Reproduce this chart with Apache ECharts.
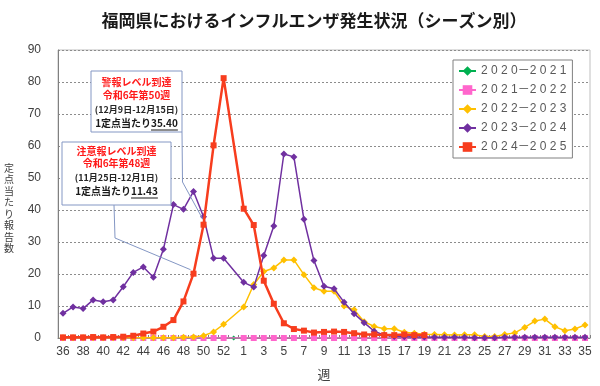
<!DOCTYPE html>
<html><head><meta charset="utf-8">
<script src="https://cdn.jsdelivr.net/npm/echarts@6/dist/echarts.min.js"></script>
<style>html,body{margin:0;padding:0;background:#fff}#c{width:600px;height:386px}</style>
</head><body><div id="c"></div>
<script>
const weekLabels = ['36','37','38','39','40','41','42','43','44','45','46','47','48','49','50','51','52','53',
  '1','2','3','4','5','6','7','8','9','10','11','12','13','14','15','16','17','18','19','20',
  '21','22','23','24','25','26','27','28','29','30','31','32','33','34','35'];
const seasonNames = ['2020－2021','2021－2022','2022－2023','2023－2024','2024－2025'];
const s2020 = [0,0,0,0,0,0,0,0,0,0,0,0,0,0,0,0,0,0,
  0,0,0,0,0,0,0,0,0,0,0,0,0,0,0,0,0,0,0,0,0,0,0,0,0,0,0,0,0,0,0,0,0,0,0];
const s2021 = [0,0,0,0,0,0,0,0,0,0,0,0,0,0,0,0,0,null,
  0,0,0,0,0,0,0,0,0,0,0,0,0,0,0,0,0,0,0,0,0,0,0,0,0,0,0,0,0,0,0,0,0,0,0];
const s2022 = [0.1,0.1,0.1,0.1,0.1,0.1,0.1,0.1,0.1,0.1,0.1,0.1,0.2,0.3,0.7,1.9,4.3,null,
  9.7,16.7,20.8,21.9,24.4,24.4,19.8,15.7,14.6,14.6,10.0,8.8,5.1,3.6,2.9,2.9,1.8,1.5,1.2,1.1,
  1.0,0.9,1.0,1.0,0.5,0.5,1.1,1.6,3.3,5.3,5.9,3.5,2.3,2.8,4.1];
const s2023 = [7.7,9.7,9.2,11.9,11.3,11.9,16.0,20.5,22.2,19.0,27.7,41.7,40.2,45.8,37.9,24.9,24.9,null,
  17.4,15.9,25.8,35.0,57.5,56.6,37.1,24.2,16.2,15.4,11.2,7.6,4.8,2.1,0.9,0.5,0.4,0.3,0.3,0.2,
  0.2,0.2,0.2,0.1,0.1,0.1,0.2,0.2,0.2,0.2,0.2,0.2,0.2,0.2,0.2];
const s2024 = [0.2,0.2,0.2,0.3,0.2,0.3,0.4,0.7,1.4,2.0,3.5,5.6,11.43,20.1,35.40,60.2,81.2,null,
  40.4,35.3,17.9,10.7,4.6,2.8,2.3,1.7,1.9,2.0,1.9,1.5,1.1,1.1,0.9,0.9,1.1,0.9,0.9,null,
  null,null,null,null,null,null,null,null,null,null,null,null,null,null,null];
const yTicks = [0,10,20,30,40,50,60,70,80,90];

const seriesData = [s2020, s2021, s2022, s2023, s2024];
const colors = ['#00b050','#ff66cc','#ffc000','#7030a0','#f73d1e'];
const symbols = ['diamond','rect','diamond','diamond','rect'];
const symSizes = [5,6,7,7,6];
const lineWidths = [1.5,1.5,1.5,1.5,2.5];

const CJK = "'Noto Sans CJK JP', sans-serif";
const NUM = "'Liberation Sans', Arial, 'Noto Sans CJK JP', sans-serif";

const chart = echarts.init(document.getElementById('c'), null, {renderer:'canvas'});

const option = {
  animation: false,
  backgroundColor: '#fff',
  grid: {left: 58, right: 10, top: 50, bottom: 45, show: true, borderColor: '#bfbfbf', borderWidth: 1, backgroundColor: 'transparent'},
  legend: {
    orient: 'vertical', left: 453, top: 60, padding: [5, 6, 5, 5], itemGap: 7,
    itemWidth: 17, itemHeight: 12,
    borderColor: '#808080', borderWidth: 1, backgroundColor: '#fff',
    data: seasonNames,
    formatter: n => { const p = n.split('－'); return p[0].split('').join(' ') + '－' + p[1].split('').join(' '); },
    textStyle: {fontSize: 12, color: '#595959', fontFamily: NUM}
  },
  xAxis: {
    type: 'category', data: weekLabels, boundaryGap: true,
    name: '週', nameLocation: 'middle', nameGap: 30,
    nameTextStyle: {fontSize: 13, color: '#404040', fontFamily: CJK},
    axisLine: {lineStyle: {color: '#808080', width: 1}},
    axisTick: {show: true, inside: true, length: 3, interval: 0, lineStyle: {color: '#808080'}},
    axisLabel: {interval: 1, fontSize: 12, color: '#404040', margin: 8, fontFamily: NUM}
  },
  yAxis: {
    type: 'value', min: yTicks[0], max: yTicks[yTicks.length-1], interval: yTicks[1]-yTicks[0],
    axisLine: {show: true, lineStyle: {color: '#808080', width: 1}},
    axisTick: {show: false},
    axisLabel: {fontSize: 12, color: '#404040', margin: 17, fontFamily: NUM},
    splitLine: {show: true, lineStyle: {color: '#8c8c8c', type: [2, 2], width: 1}}
  },
  series: seasonNames.map((n, i) => ({
    name: n, type: 'line', data: seriesData[i], connectNulls: true,
    symbol: symbols[i], symbolSize: symSizes[i], showAllSymbol: true,
    itemStyle: {color: colors[i], borderWidth: 0},
    lineStyle: {color: colors[i], width: lineWidths[i]},
    z: 2 + i
  }))
};
chart.setOption(option);

// annotations
const ctx = document.createElement('canvas').getContext('2d');
function tw(text, font) { ctx.font = font; return ctx.measureText(text).width; }

const boxColor = '#8497c4';
function boxGroup(x, y, w, h, lines, numText, numLineY) {
  const cx = x + w / 2;
  const els = [{type: 'rect', shape: {x, y, width: w, height: h}, style: {fill: '#fff', stroke: boxColor, lineWidth: 1}, z: 50}];
  lines.forEach(l => {
    els.push({type: 'text', x: cx, y: l.y, z: 51, style: {text: l.t, fill: l.c, font: l.f, textAlign: 'center', textVerticalAlign: 'middle'}});
  });
  const f = "bold 10px 'Noto Sans CJK JP', sans-serif";
  const pre = '1定点当たり';
  const w1 = tw(pre, f), w2 = tw(numText, f);
  const sx = cx - (w1 + w2) / 2;
  els.push({type: 'text', x: sx, y: numLineY, z: 51, style: {text: pre, fill: '#1a1a1a', font: f, textAlign: 'left', textVerticalAlign: 'middle'}});
  els.push({type: 'text', x: sx + w1, y: numLineY, z: 51, style: {text: numText, fill: '#1a1a1a', font: f, textAlign: 'left', textVerticalAlign: 'middle'}});
  els.push({type: 'line', z: 51, shape: {x1: sx + w1, y1: numLineY + 7, x2: sx + w1 + w2, y2: numLineY + 7}, style: {stroke: '#1a1a1a', lineWidth: 1}});
  return els;
}
const redF = "bold 10px 'Noto Sans CJK JP', sans-serif";
const datF = "bold 9px 'Noto Sans CJK JP', sans-serif";

const p50 = chart.convertToPixel({seriesIndex: 4}, [14, s2024[14]]);
const p49 = chart.convertToPixel({seriesIndex: 4}, [13, s2024[13]]);

const elements = [];
elements.push({type: 'polyline', z: 40, shape: {points: [[182, 132], [182.5, 182], [p50[0] - 1, p50[1] - 6]]}, style: {stroke: boxColor, lineWidth: 1, fill: null}});
elements.push({type: 'polyline', z: 40, shape: {points: [[114, 205], [115, 238], [p49[0] - 3, p49[1] - 4]]}, style: {stroke: boxColor, lineWidth: 1, fill: null}});
elements.push(...boxGroup(91, 71, 91, 61, [
  {t: '警報レベル到達', c: '#ff1a1a', f: redF, y: 82},
  {t: '令和6年第50週', c: '#ff1a1a', f: redF, y: 95},
  {t: '(12月9日-12月15日)', c: '#262626', f: datF, y: 110}
], '35.40', 123));
elements.push(...boxGroup(62, 142, 109, 63, [
  {t: '注意報レベル到達', c: '#ff1a1a', f: redF, y: 151},
  {t: '令和6年第48週', c: '#ff1a1a', f: redF, y: 163},
  {t: '(11月25日-12月1日)', c: '#262626', f: datF, y: 178}
], '11.43', 191));
elements.push({type: 'text', x: 314, y: 21, z: 60, style: {text: '福岡県におけるインフルエンザ発生状況（シーズン別）', fill: '#1a1a1a', font: "bold 17px 'Noto Sans CJK JP', sans-serif", textAlign: 'center', textVerticalAlign: 'middle'}});
const yName = '定点当たり報告数';
yName.split('').forEach((ch, i) => {
  elements.push({type: 'text', x: 9, y: 168 + i * 11.5, z: 60, style: {text: ch, fill: '#404040', fontSize: 10, fontFamily: 'Noto Sans CJK JP', textAlign: 'center', textVerticalAlign: 'middle'}});
});

chart.setOption({graphic: {elements}});
</script>
</body></html>
